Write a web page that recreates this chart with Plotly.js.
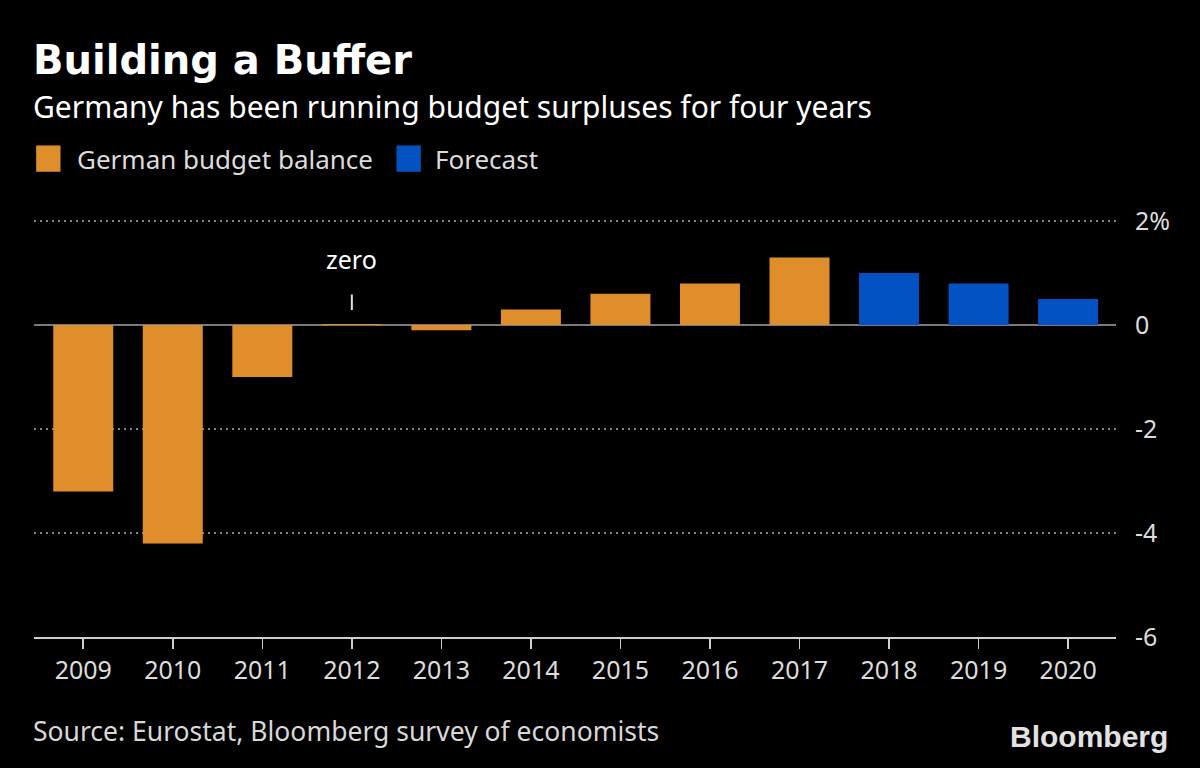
<!DOCTYPE html>
<html>
<head>
<meta charset="utf-8">
<script src="https://cdn.plot.ly/plotly-3.0.1.min.js"></script>
<style>
html,body{margin:0;padding:0;background:#000;}
#chart{width:1200px;height:768px;}
</style>
</head>
<body>
<div id="chart"></div>
<script>
const years = ['2009','2010','2011','2012','2013','2014','2015','2016','2017','2018','2019','2020'];
const actualYears = ['2009','2010','2011','2012','2013','2014','2015','2016','2017'];
const actualValues = [-3.2, -4.2, -1.0, 0.02, -0.1, 0.3, 0.6, 0.8, 1.3];
const forecastYears = ['2018','2019','2020'];
const forecastValues = [1.0, 0.8, 0.5];
const seriesNames = ['German budget balance', 'Forecast'];
const yTickVals = [-6, -4, -2, 0, 2];
const yTickText = ['-6', '-4', '-2', '0', '2%'];
const titleText = 'Building a Buffer';
const subtitleText = 'Germany has been running budget surpluses for four years';
const sourceText = 'Source: Eurostat, Bloomberg survey of economists';
const noteYear = '2012';
const noteText = 'zero';

const ORANGE = '#e08e2b';
const BLUE = '#0352c4';
const FONT = 'Noto Sans, sans-serif';

const traces = [
  {type:'bar', x: actualYears, y: actualValues, name: seriesNames[0],
   marker:{color: ORANGE}, hoverinfo:'x+y', showlegend:false},
  {type:'bar', x: forecastYears, y: forecastValues, name: seriesNames[1],
   marker:{color: BLUE}, hoverinfo:'x+y', showlegend:false}
];

const layout = {
  width:1200, height:768,
  paper_bgcolor:'#000', plot_bgcolor:'#000',
  margin:{l:34, r:84, t:219, b:131},
  barmode:'overlay', bargap:0.33,
  font:{family:FONT, color:'#e0e0e0'},
  showlegend:false,
  xaxis:{
    type:'category', categoryorder:'array', categoryarray: years,
    range:[-0.55, 11.535],
    showline:true, linecolor:'#cfcfcf', linewidth:1.5,
    ticks:'outside', ticklen:10, tickcolor:'#cfcfcf', tickwidth:1.5,
    tickfont:{family:FONT, size:25, color:'#dcdcdc'},
    showgrid:false, zeroline:false, fixedrange:true
  },
  yaxis:{
    side:'right', range:[-6, 2.04],
    tickvals: yTickVals, ticktext: yTickText,
    tickfont:{family:FONT, size:25, color:'#dcdcdc'},
    ticks:'', ticklabelstandoff:18,
    showgrid:true, gridcolor:'#858585', griddash:'2px,4px', gridwidth:2,
    zeroline:true, zerolinecolor:'#7a7a7a', zerolinewidth:2,
    showline:false, fixedrange:true
  },
  shapes:[
    {type:'rect', xref:'paper', yref:'paper', x0:0.002, x1:0.0245, y0:1.113, y1:1.176,
     fillcolor:ORANGE, line:{width:0}},
    {type:'rect', xref:'paper', yref:'paper', x0:0.335, x1:0.3575, y0:1.113, y1:1.176,
     fillcolor:BLUE, line:{width:0}}
  ],
  annotations:[
    {xref:'paper', yref:'paper', x:0, y:1.0, xanchor:'left', yanchor:'middle',
     text:'<b>'+titleText+'</b>', showarrow:false, yshift:159, xshift:-3,
     font:{family:'DejaVu Sans, sans-serif', size:40, color:'#ffffff'}},
    {xref:'paper', yref:'paper', x:0, y:1.0, xanchor:'left', yanchor:'middle',
     text:subtitleText, showarrow:false, yshift:113, xshift:-3,
     font:{family:FONT, size:30, color:'#ffffff'}},
    {xref:'paper', yref:'paper', x:0.038, y:1.1445, xanchor:'left', yanchor:'middle',
     text:seriesNames[0], showarrow:false,
     font:{family:FONT, size:26, color:'#dcdcdc'}},
    {xref:'paper', yref:'paper', x:0.3685, y:1.1445, xanchor:'left', yanchor:'middle',
     text:seriesNames[1], showarrow:false,
     font:{family:FONT, size:26, color:'#dcdcdc'}},
    {xref:'x', yref:'y', x: years.indexOf(noteYear), y:0, ax:0, ay:-66, text:noteText,
     showarrow:true, arrowhead:0, arrowwidth:2, arrowcolor:'#e0e0e0',
     standoff:15, startstandoff:17,
     font:{family:FONT, size:25, color:'#ffffff'}},
    {xref:'paper', yref:'paper', x:0, y:0, xanchor:'left', yanchor:'middle',
     text:sourceText, showarrow:false, yshift:-94, xshift:-3,
     font:{family:FONT, size:26.5, color:'#d8d8d8'}},
    {xref:'paper', yref:'paper', x:1, y:0, xanchor:'right', yanchor:'middle',
     text:'<b>Bloomberg</b>', showarrow:false, yshift:-99, xshift:54,
     font:{family:'Liberation Sans, Arial, sans-serif', size:30, color:'#e2e2e2'}}
  ]
};

Plotly.newPlot('chart', traces, layout, {displayModeBar:false, staticPlot:true});
</script>
</body>
</html>
